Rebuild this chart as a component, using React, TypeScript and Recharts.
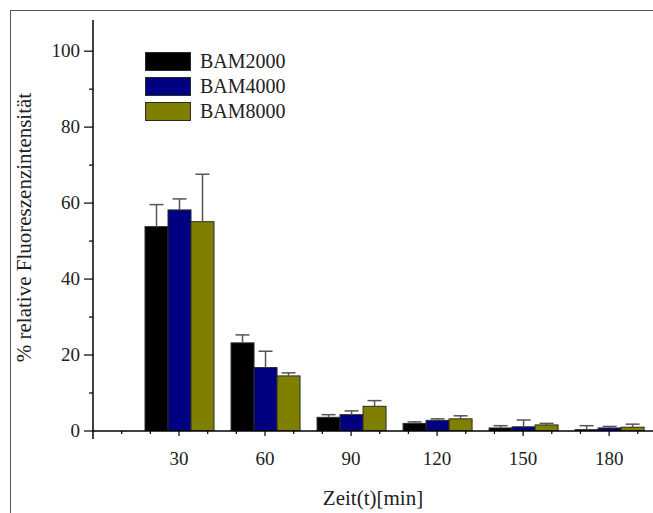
import { BarChart, Bar, XAxis, YAxis, Legend } from "recharts";

// Zeitpunkte (min)
const times = [30, 60, 90, 120, 150, 180];

// Mittelwerte % relative Fluoreszenzintensität
const bam2000 = [53.8, 23.2, 3.6, 2.0, 0.8, 0.35];
const bam4000 = [58.2, 16.7, 4.3, 2.8, 1.1, 0.8];
const bam8000 = [55.1, 14.5, 6.5, 3.2, 1.6, 1.0];

// Fehlerbalken (nur nach oben)
const bam2000Err = [5.8, 2.1, 0.7, 0.4, 0.6, 1.05];
const bam4000Err = [2.9, 4.3, 1.0, 0.4, 1.8, 0.4];
const bam8000Err = [12.5, 0.8, 1.5, 0.8, 0.4, 0.8];

const seriesNames = ["BAM2000", "BAM4000", "BAM8000"];
const seriesColors = ["#000000", "#000080", "#808000"];

const xTicks = [0, 10, 20, 30, 40, 50, 60, 70, 80, 90, 100, 110, 120, 130, 140, 150, 160, 170, 180, 190];
const yTicks = [0, 10, 20, 30, 40, 50, 60, 70, 80, 90, 100];

const data = times.map((t, i) => ({
  time: t,
  b2000: bam2000[i],
  e2000: bam2000Err[i],
  b4000: bam4000[i],
  e4000: bam4000Err[i],
  b8000: bam8000[i],
  e8000: bam8000Err[i],
}));

const FONT = "Liberation Serif, Times New Roman, serif";

function XTick(props: any) {
  const { x, y, payload } = props;
  const v = payload.value;
  if (v === 0) {
    return <line x1={x} x2={x} y1={y} y2={y + 8} stroke="#000" strokeWidth={1.5} />;
  }
  const major = v % 30 === 0;
  return (
    <g>
      <line x1={x} x2={x} y1={y} y2={y + (major ? 5 : 3)} stroke="#000" strokeWidth={1.2} />
      {major && (
        <text x={x} y={y + 34} textAnchor="middle" style={{ fontFamily: FONT, fontSize: 19 }} fill="#222">
          {v}
        </text>
      )}
    </g>
  );
}

function YTick(props: any) {
  const { x, y, payload } = props;
  const v = payload.value;
  const major = v % 20 === 0;
  return (
    <g>
      <line x1={x - (major ? 9 : 4)} x2={x} y1={y} y2={y} stroke="#000" strokeWidth={1.2} />
      {major && (
        <text x={x - 13} y={y + 6} textAnchor="end" style={{ fontFamily: FONT, fontSize: 19 }} fill="#222">
          {v}
        </text>
      )}
    </g>
  );
}

function YTitle(props: any) {
  const vb = props.viewBox || {};
  const cy = (vb.y ?? 20) + (vb.height ?? 411) / 2 + 2;
  return (
    <text
      x={31}
      y={cy}
      transform={`rotate(-90, 31, ${cy})`}
      textAnchor="middle"
      style={{ fontFamily: FONT, fontSize: 21 }}
      fill="#222"
    >
      % relative Fluoreszenzintensität
    </text>
  );
}

// Balken mit Fehlerbalken nach oben
function makeShape(valKey: string, errKey: string) {
  return (props: any) => {
    const { x, y, width, height, fill, payload } = props;
    const val = payload[valKey];
    const err = payload[errKey];
    const k = val > 0 ? height / val : 0;
    const top = y - err * k;
    const cx = x + width / 2;
    return (
      <g>
        <rect x={x} y={y} width={width} height={height} fill={fill} stroke="#2a2a2a" strokeWidth={1} />
        <line x1={cx} x2={cx} y1={y} y2={top} stroke="#555" strokeWidth={1.5} />
        <line x1={cx - 7} x2={cx + 7} y1={top} y2={top} stroke="#555" strokeWidth={1.5} />
      </g>
    );
  };
}

function LegendBox(props: any) {
  const items = props.payload || [];
  return (
    <svg width={190} height={80} style={{ overflow: "visible" }}>
      {items.map((it: any, i: number) => (
        <g key={it.value}>
          <rect x={0.5} y={0.5 + i * 25} width={45} height={18} fill={it.color} stroke="#2a2a2a" strokeWidth={1} />
          <text x={55} y={16 + i * 25} style={{ fontFamily: FONT, fontSize: 20 }} fill="#222">
            {it.value}
          </text>
        </g>
      ))}
    </svg>
  );
}

export default function App() {
  return (
    <div style={{ position: "absolute", left: 0, top: 0, width: 653, height: 513, background: "#fff", overflow: "hidden" }}>
      <div
        style={{
          position: "absolute",
          left: 10,
          top: 10,
          width: 700,
          height: 600,
          borderLeft: "1px solid #555",
          borderTop: "1px solid #555",
        }}
      />
      <BarChart
        width={653}
        height={513}
        data={data}
        margin={{ top: 20, right: 0, bottom: 0, left: 0 }}
        barGap={0}
        barSize={23}
      >
        <XAxis
          dataKey="time"
          type="number"
          domain={[0, 195.3]}
          allowDataOverflow
          ticks={xTicks}
          interval={0}
          height={82}
          tickSize={0}
          tickMargin={0}
          tickLine={false}
          axisLine={{ stroke: "#000", strokeWidth: 1.5 }}
          tick={<XTick />}
          label={{
            value: "Zeit(t)[min]",
            position: "insideBottom",
            offset: 8,
            style: { fontFamily: FONT, fontSize: 21, fill: "#222" },
          }}
        />
        <YAxis
          type="number"
          domain={[0, 108.2]}
          allowDataOverflow
          ticks={yTicks}
          interval={0}
          width={93}
          tickSize={0}
          tickMargin={0}
          tickLine={false}
          axisLine={{ stroke: "#000", strokeWidth: 1.5 }}
          tick={<YTick />}
          label={{ content: <YTitle /> }}
        />
        <Legend
          layout="vertical"
          align="center"
          verticalAlign="middle"
          wrapperStyle={{ left: 145, top: 52, width: 190, height: 80 }}
          content={<LegendBox />}
        />
        <Bar dataKey="b2000" name={seriesNames[0]} fill={seriesColors[0]} isAnimationActive={false} shape={makeShape("b2000", "e2000")} />
        <Bar dataKey="b4000" name={seriesNames[1]} fill={seriesColors[1]} isAnimationActive={false} shape={makeShape("b4000", "e4000")} />
        <Bar dataKey="b8000" name={seriesNames[2]} fill={seriesColors[2]} isAnimationActive={false} shape={makeShape("b8000", "e8000")} />
      </BarChart>
    </div>
  );
}
